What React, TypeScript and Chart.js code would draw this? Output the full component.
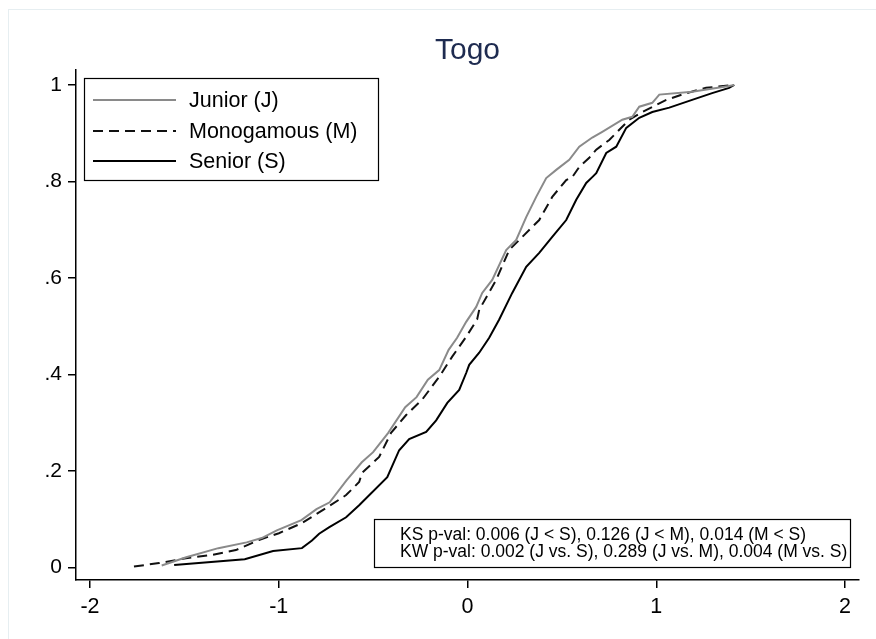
import React, { useEffect, useRef } from "react";
import { Chart, registerables } from "chart.js";

Chart.register(...registerables);

const titleText = "Togo";
const seriesNames = ["Junior (J)", "Monogamous (M)", "Senior (S)"];

const juniorX = [-1.62, -1.49, -1.32, -1.17, -1.09, -1.01, -0.88, -0.8, -0.73, -0.64, -0.56, -0.5, -0.42, -0.33, -0.27, -0.21, -0.15, -0.1, -0.055, -0.007, 0.046, 0.078, 0.131, 0.205, 0.258, 0.311, 0.364, 0.417, 0.47, 0.539, 0.592, 0.661, 0.714, 0.82, 0.873, 0.91, 0.979, 1.016, 1.19, 1.386, 1.413];
const juniorY = [0.004, 0.021, 0.04, 0.052, 0.061, 0.077, 0.098, 0.121, 0.135, 0.181, 0.218, 0.239, 0.279, 0.332, 0.353, 0.389, 0.409, 0.451, 0.476, 0.509, 0.54, 0.569, 0.596, 0.658, 0.679, 0.726, 0.768, 0.807, 0.824, 0.845, 0.872, 0.891, 0.903, 0.928, 0.934, 0.955, 0.963, 0.98, 0.986, 0.998, 1.0];

const monoX = [-1.767, -1.634, -1.492, -1.354, -1.227, -1.105, -0.999, -0.877, -0.749, -0.643, -0.574, -0.559, -0.468, -0.405, -0.325, -0.24, -0.15, -0.081, -0.007, 0.051, 0.062, 0.152, 0.221, 0.29, 0.38, 0.449, 0.523, 0.555, 0.592, 0.645, 0.682, 0.751, 0.857, 0.926, 1.053, 1.159, 1.264, 1.402];
const monoY = [0.002, 0.009, 0.019, 0.026, 0.036, 0.057, 0.071, 0.092, 0.123, 0.15, 0.177, 0.196, 0.229, 0.279, 0.316, 0.348, 0.395, 0.437, 0.478, 0.514, 0.534, 0.596, 0.658, 0.685, 0.72, 0.768, 0.803, 0.809, 0.83, 0.849, 0.866, 0.886, 0.928, 0.944, 0.969, 0.983, 0.994, 1.0];

const seniorX = [-1.554, -1.18, -1.03, -0.877, -0.824, -0.786, -0.734, -0.643, -0.574, -0.425, -0.362, -0.309, -0.219, -0.166, -0.107, -0.044, -0.007, 0.009, 0.062, 0.115, 0.168, 0.237, 0.311, 0.38, 0.449, 0.523, 0.576, 0.629, 0.661, 0.682, 0.735, 0.788, 0.841, 0.91, 0.979, 1.069, 1.19, 1.296, 1.386, 1.413];
const seniorY = [0.005, 0.017, 0.034, 0.04, 0.056, 0.07, 0.083, 0.104, 0.129, 0.187, 0.243, 0.266, 0.281, 0.305, 0.341, 0.368, 0.403, 0.42, 0.445, 0.476, 0.514, 0.569, 0.623, 0.652, 0.685, 0.72, 0.762, 0.797, 0.809, 0.817, 0.859, 0.872, 0.911, 0.932, 0.944, 0.953, 0.969, 0.983, 0.994, 1.0];

const xTicks = [-2, -1, 0, 1, 2];
const xTickLabels = ["-2", "-1", "0", "1", "2"];
const yTicks = [0, 0.2, 0.4, 0.6, 0.8, 1];
const yTickLabels = ["0", ".2", ".4", ".6", ".8", "1"];

const noteLines = [
  "KS p-val: 0.006 (J < S), 0.126 (J < M), 0.014 (M < S)",
  "KW p-val: 0.002 (J vs. S), 0.289 (J vs. M), 0.004 (M vs. S)",
];

const FONT = "'Liberation Sans', Arial, Helvetica, sans-serif";

const toPoints = (xs: number[], ys: number[]) => xs.map((x, i) => ({ x, y: ys[i] }));

const overlayPlugin = {
  id: "overlayPlugin",
  afterDraw(chart: any) {
    const ctx = chart.ctx as CanvasRenderingContext2D;
    const ca = chart.chartArea;
    ctx.save();
    // title
    ctx.font = `30px ${FONT}`;
    ctx.fillStyle = "#1e2b50";
    ctx.textAlign = "center";
    ctx.textBaseline = "middle";
    ctx.fillText(titleText, (ca.left + ca.right) / 2, 51);

    // legend
    const lx = ca.left + 8;
    const ly = ca.top + 8;
    ctx.fillStyle = "#ffffff";
    ctx.fillRect(lx, ly, 294, 102);
    ctx.strokeStyle = "#000000";
    ctx.lineWidth = 1.2;
    ctx.strokeRect(lx + 0.5, ly + 0.5, 294, 102);
    const rows = [ly + 22, ly + 53, ly + 83];
    chart.data.datasets.forEach((ds: any, i: number) => {
      ctx.beginPath();
      ctx.strokeStyle = ds.borderColor;
      ctx.lineWidth = ds.borderWidth;
      ctx.setLineDash(ds.borderDash || []);
      ctx.moveTo(lx + 9, rows[i]);
      ctx.lineTo(lx + 92, rows[i]);
      ctx.stroke();
      ctx.setLineDash([]);
      ctx.fillStyle = "#000000";
      ctx.font = `21.5px ${FONT}`;
      ctx.textAlign = "left";
      ctx.textBaseline = "middle";
      ctx.fillText(seriesNames[i], lx + 105, rows[i] + 1);
    });

    // note box
    const nx = 374;
    const ny = ca.bottom - 61;
    const nw = 476;
    const nh = 48;
    ctx.fillStyle = "#ffffff";
    ctx.fillRect(nx, ny, nw, nh);
    ctx.strokeStyle = "#000000";
    ctx.lineWidth = 1.2;
    ctx.strokeRect(nx + 0.5, ny + 0.5, nw, nh);
    ctx.fillStyle = "#000000";
    ctx.font = `17.5px ${FONT}`;
    ctx.textAlign = "left";
    ctx.textBaseline = "middle";
    ctx.fillText(noteLines[0], nx + 26, ny + 16);
    ctx.fillText(noteLines[1], nx + 26, ny + 33);
    ctx.restore();
  },
};

export default function App() {
  const canvasRef = useRef<HTMLCanvasElement | null>(null);

  useEffect(() => {
    if (!canvasRef.current) return;
    const chart = new Chart(canvasRef.current, {
      type: "scatter",
      data: {
        datasets: [
          {
            label: seriesNames[0],
            data: toPoints(juniorX, juniorY),
            showLine: true,
            borderColor: "#8a8a8a",
            borderWidth: 2,
            pointRadius: 0,
            tension: 0,
          },
          {
            label: seriesNames[1],
            data: toPoints(monoX, monoY),
            showLine: true,
            borderColor: "#111111",
            borderWidth: 2,
            borderDash: [10, 6],
            pointRadius: 0,
            tension: 0,
          },
          {
            label: seriesNames[2],
            data: toPoints(seniorX, seniorY),
            showLine: true,
            borderColor: "#000000",
            borderWidth: 2,
            pointRadius: 0,
            tension: 0,
          },
        ],
      },
      options: {
        animation: false,
        responsive: false,
        devicePixelRatio: 1,
        layout: { padding: { left: 0, right: 17, top: 70, bottom: 0 } },
        plugins: {
          legend: { display: false },
          title: { display: false },
          tooltip: { enabled: false },
        },
        scales: {
          x: {
            type: "linear",
            min: -2.074,
            max: 2.074,
            afterBuildTicks: (scale: any) => {
              scale.ticks = xTicks.map((v) => ({ value: v }));
            },
            afterFit: (scale: any) => {
              scale.height = 59;
            },
            ticks: {
              color: "#000000",
              font: { family: FONT, size: 21.5 },
              padding: 6,
              maxRotation: 0,
              autoSkip: false,
              callback: (v: any) => xTickLabels[xTicks.indexOf(Number(v))] ?? "",
            },
            grid: { display: true, drawOnChartArea: false, drawTicks: true, tickLength: 8, color: "#000000", lineWidth: 1.5 },
            border: { display: true, color: "#000000", width: 1.5 },
          },
          y: {
            type: "linear",
            min: -0.026,
            max: 1.031,
            afterBuildTicks: (scale: any) => {
              scale.ticks = yTicks.map((v) => ({ value: v }));
            },
            afterFit: (scale: any) => {
              scale.width = 76;
            },
            ticks: {
              color: "#000000",
              font: { family: FONT, size: 21 },
              padding: 6,
              autoSkip: false,
              callback: (v: any) => {
                const idx = yTicks.findIndex((t) => Math.abs(t - Number(v)) < 1e-9);
                return idx >= 0 ? yTickLabels[idx] : "";
              },
            },
            grid: { display: true, drawOnChartArea: false, drawTicks: true, tickLength: 8, color: "#000000", lineWidth: 1.5 },
            border: { display: true, color: "#000000", width: 1.5 },
          },
        },
      },
      plugins: [overlayPlugin],
    });
    return () => chart.destroy();
  }, []);

  return (
    <div style={{ position: "absolute", left: 0, top: 0, width: 876, height: 639, overflow: "hidden", background: "#ffffff" }}>
      <div
        style={{
          position: "absolute",
          left: 8,
          top: 9,
          width: 868,
          height: 630,
          borderLeft: "1px solid #e6eef1",
          borderTop: "1px solid #e6eef1",
        }}
      />
      <canvas ref={canvasRef} width={876} height={639} style={{ position: "absolute", left: 0, top: 0 }} />
    </div>
  );
}
